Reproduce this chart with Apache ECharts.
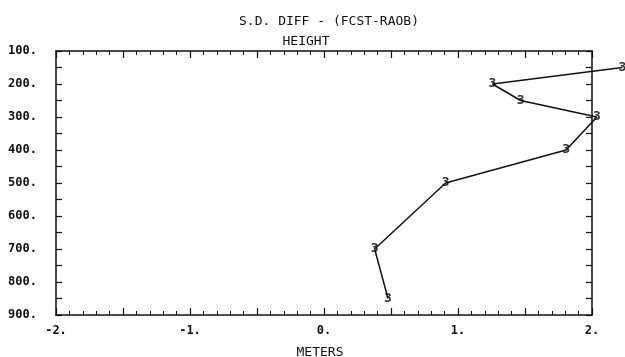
<!DOCTYPE html>
<html>
<head>
<meta charset="utf-8">
<script src="https://cdn.jsdelivr.net/npm/echarts@6/dist/echarts.min.js"></script>
<style>
html,body{margin:0;padding:0;background:#fff;}
#c{width:625px;height:357px;}
</style>
</head>
<body>
<div id="c"></div>
<script>
// Data
const levels = [150, 200, 250, 300, 400, 500, 700, 850];
const sdDiff = [2.23, 1.26, 1.47, 2.04, 1.81, 0.91, 0.38, 0.48];
const markerText = '3';
const xTicks = [-2, -1, 0, 1, 2];
const yTicks = [100, 200, 300, 400, 500, 600, 700, 800, 900];

const font = '"DejaVu Sans Mono", "Liberation Mono", monospace';
const pts = levels.map((h, i) => [sdDiff[i], h]);

function xFmt(v) {
  const r = Math.round(v);
  if (Math.abs(v - r) < 1e-6 && xTicks.indexOf(r) >= 0) return r + '.';
  return '';
}
function yFmt(v) {
  if (yTicks.indexOf(v) >= 0) return v + '.';
  return '';
}

// frame geometry
const gLeft = 56, gTop = 51, gW = 536, gH = 264;
const xMin = -2, xMax = 2, xMaxData = 2.25;
const wData = gW * (xMaxData - xMin) / (xMax - xMin);

const axisLine = {show: true, onZero: false, lineStyle: {color: '#111', width: 1.5}};
const tick = {show: true, inside: true, length: 7, lineStyle: {color: '#111', width: 1.2}};
const minor = {show: true, splitNumber: 5, length: 4, lineStyle: {color: '#111', width: 1}};
const chart = echarts.init(document.getElementById('c'));
chart.setOption({
  backgroundColor: '#fff',
  animation: false,
  title: [
    {text: 'S.D. DIFF - (FCST-RAOB)', left: 324, top: 10, textAlign: 'center',
     textStyle: {fontFamily: font, fontSize: 13, fontWeight: 'normal', color: '#111'}},
    {text: 'HEIGHT', left: 301, top: 30, textAlign: 'center',
     textStyle: {fontFamily: font, fontSize: 13, fontWeight: 'normal', color: '#111'}},
    {text: 'METERS', left: 315, top: 341, textAlign: 'center',
     textStyle: {fontFamily: font, fontSize: 13, fontWeight: 'normal', color: '#111'}}
  ],
  grid: [
    {left: gLeft, top: gTop, width: gW, height: gH},
    {left: gLeft, top: gTop, width: wData, height: gH}
  ],
  xAxis: [
    {type: 'value', gridIndex: 0, position: 'bottom', min: xMin, max: xMax, interval: 0.5,
     axisLine: axisLine, axisTick: tick, minorTick: minor, splitLine: {show: false},
     axisLabel: {formatter: xFmt, fontFamily: font, fontSize: 12, fontWeight: 'bold', color: '#111', margin: 10,
                 showMinLabel: true, showMaxLabel: true}},
    {type: 'value', gridIndex: 0, position: 'top', min: xMin, max: xMax, interval: 0.5,
     axisLine: axisLine, axisTick: tick, minorTick: minor, splitLine: {show: false},
     axisLabel: {show: false}},
    {type: 'value', gridIndex: 1, min: xMin, max: xMaxData, show: false}
  ],
  yAxis: [
    {type: 'value', gridIndex: 0, position: 'left', inverse: true, min: 100, max: 900, interval: 50,
     axisLine: axisLine, axisTick: {show: true, inside: true, length: 6, lineStyle: {color: '#111', width: 1.2}},
     splitLine: {show: false},
     axisLabel: {formatter: yFmt, fontFamily: font, fontSize: 12, fontWeight: 'bold', color: '#111', margin: 19,
                 showMinLabel: true, showMaxLabel: true}},
    {type: 'value', gridIndex: 0, position: 'right', inverse: true, min: 100, max: 900, interval: 50,
     axisLine: axisLine, axisTick: {show: true, inside: true, length: 6, lineStyle: {color: '#111', width: 1.2}},
     splitLine: {show: false}, axisLabel: {show: false}},
    {type: 'value', gridIndex: 1, inverse: true, min: 100, max: 900, show: false}
  ],
  series: [
    {type: 'line', data: pts, xAxisIndex: 2, yAxisIndex: 2, clip: false,
     showSymbol: false, symbol: 'none',
     lineStyle: {color: '#111', width: 1.5}},
    {type: 'scatter', data: pts, xAxisIndex: 2, yAxisIndex: 2, clip: false,
     symbol: 'circle', symbolSize: 10, itemStyle: {color: 'rgba(0,0,0,0)'},
     label: {show: true, position: 'inside', formatter: markerText,
             fontFamily: font, fontSize: 13, fontWeight: 'bold', color: '#000'}}
  ]
});
</script>
</body>
</html>
